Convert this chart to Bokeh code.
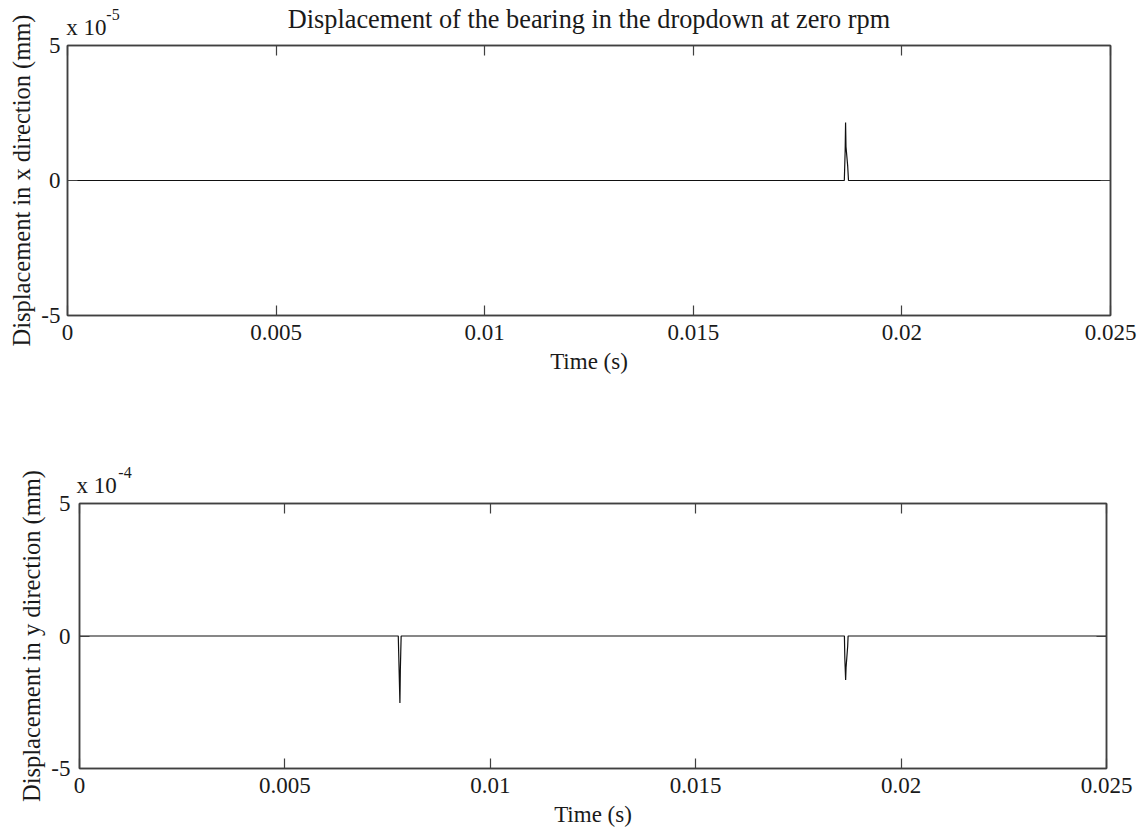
from bokeh.plotting import figure
from bokeh.models import LinearAxis, FixedTicker, Range1d, CustomJSTickFormatter, Title
from bokeh.embed import file_html
from bokeh.resources import INLINE

# ---- data -------------------------------------------------------------
# bearing displacement during the dropdown, zero rpm
# x direction, values in units of 1e-5 mm
time_x = [0.0, 0.01862, 0.01864, 0.01865, 0.01866, 0.01870, 0.01872, 0.025]
disp_x = [0.0, 0.0, 1.1, 2.15, 1.25, 0.55, 0.0, 0.0]

# y direction, values in units of 1e-4 mm
time_y = [0.0, 0.00776, 0.00777, 0.00780, 0.00781, 0.00782, 0.00783,
          0.01862, 0.01863, 0.01865, 0.01866, 0.01870, 0.01871, 0.025]
disp_y = [0.0, 0.0, -0.64, -2.53, -1.3, -0.64, 0.0,
          0.0, -0.83, -1.66, -1.2, -0.38, 0.0, 0.0]

time_ticks = [0.0, 0.005, 0.01, 0.015, 0.02, 0.025]
disp_ticks = [-5, 0, 5]

title_text = "Displacement of the bearing in the dropdown at zero rpm"
x_label = "Time (s)"
y_label_x = "Displacement in x direction (mm)"
y_label_y = "Displacement in y direction (mm)"
mult_text = "x 10"
exp_x = "-5"
exp_y = "-4"

FONT = "Liberation Serif"
TXT = "#1a1a1a"
FRAME = "#404040"
FS = "23px"

num_fmt = CustomJSTickFormatter(code="return String(tick);")


def const_fmt(txt):
    return CustomJSTickFormatter(args=dict(txt=txt), code="return txt;")


def style_axis(ax, ticks, font_size=FS, standoff=9, tick_len=10, line=True):
    ax.ticker = FixedTicker(ticks=ticks, minor_ticks=[])
    ax.formatter = num_fmt
    ax.major_tick_in = tick_len
    ax.major_tick_out = 0
    ax.minor_tick_in = 0
    ax.minor_tick_out = 0
    ax.axis_line_color = FRAME if line else None
    ax.axis_line_width = 1.5
    ax.major_tick_line_color = FRAME if tick_len else None
    ax.major_tick_line_width = 1.2
    ax.major_label_text_font = FONT
    ax.major_label_text_font_size = font_size
    ax.major_label_text_color = TXT
    ax.major_label_standoff = standoff
    ax.axis_label_text_font = FONT
    ax.axis_label_text_font_size = FS
    ax.axis_label_text_font_style = "normal"
    ax.axis_label_text_color = TXT


def tick_marks_only(ticks):
    ax = LinearAxis()
    style_axis(ax, ticks, font_size="1px", standoff=0)
    ax.major_label_text_color = None
    return ax


def make_panel(t, d, ylab, exponent, mult_pos, height, borders, tick_standoff,
               mult_standoff, exp_standoff, title=None):
    top, bottom, left, right = borders
    p = figure(width=1147, height=height, output_backend="svg", toolbar_location=None,
               title=None,
               x_range=Range1d(0, 0.025), y_range=Range1d(-5, 5),
               min_border_top=top, min_border_bottom=bottom,
               min_border_left=left, min_border_right=right)
    p.xgrid.visible = False
    p.ygrid.visible = False
    p.outline_line_color = FRAME
    p.outline_line_width = 1.5

    style_axis(p.xaxis[0], time_ticks, standoff=9)
    style_axis(p.yaxis[0], disp_ticks, standoff=tick_standoff)
    p.xaxis[0].axis_label = x_label
    p.xaxis[0].axis_label_standoff = 6

    # vertical axis title
    p.add_layout(Title(text=ylab, align="center", text_font=FONT,
                       text_font_size="24.5px", text_font_style="normal",
                       text_color=TXT, standoff=8), "left")

    # tick marks on the top and right edges of the box
    p.add_layout(tick_marks_only(time_ticks), "above")
    p.add_layout(tick_marks_only(disp_ticks), "right")

    # axis multiplier "x 10" with its raised exponent, above the top-left corner
    mult_ax = LinearAxis()
    style_axis(mult_ax, [mult_pos[0]], standoff=mult_standoff, tick_len=0, line=False)
    mult_ax.formatter = const_fmt(mult_text)
    p.add_layout(mult_ax, "above")

    exp_ax = LinearAxis()
    style_axis(exp_ax, [mult_pos[1]], font_size="16px", standoff=exp_standoff,
               tick_len=0, line=False)
    exp_ax.formatter = const_fmt(exponent)
    if title:
        exp_ax.axis_label = title
        exp_ax.axis_label_text_font_size = "26.3px"
        exp_ax.axis_label_standoff = -28
    p.add_layout(exp_ax, "above")

    p.line(t, d, line_color="#111111", line_width=1.2)
    return p


p1 = make_panel(time_x, disp_x, y_label_x, exp_x, (0.000455, 0.00109), 400,
                (45, 85, 67, 37), 7, 6, -8, title=title_text)
p2 = make_panel(time_y, disp_y, y_label_y, exp_y, (0.000414, 0.001108), 430,
                (103, 62, 79, 41), 9, 6, -8)

open("out.html", "w").write(file_html([p1, p2], INLINE))
